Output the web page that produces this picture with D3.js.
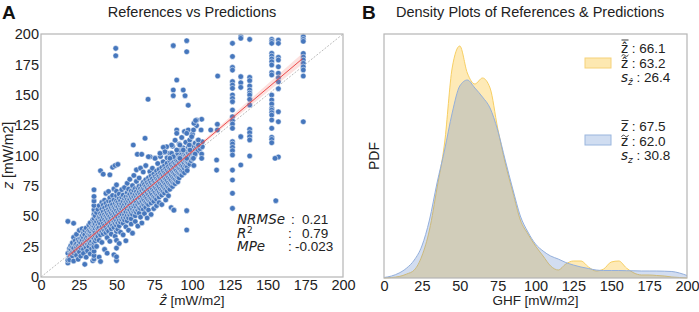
<!DOCTYPE html>
<html>
<head>
<meta charset="utf-8">
<script src="https://cdn.jsdelivr.net/npm/d3@7/dist/d3.min.js"></script>
<style>
  body { margin: 0; background: #fff; }
  svg { display: block; font-family: "Liberation Sans", Arial, sans-serif; }
  .tick text { font-family: "Liberation Sans", Arial, sans-serif; font-size: 14.5px; fill: #222; }
</style>
</head>
<body>
<svg id="chart" width="699" height="312"></svg>
<script>
// ---- data ----
const ticks = [0, 25, 50, 75, 100, 125, 150, 175, 200];

// main cloud: [prediction, [references...]]
const cloudColumns = [
  [17.8, [11.5, 13.8, 19.6, 45.8]],
  [18.9, [16.2, 21.7, 23.4, 14.1]],
  [19.7, [18.8, 22.9, 25.6]],
  [20.8, [17.3, 20.4, 24.7, 28.1]],
  [21.6, [19.9, 23.8, 32.6, 44.2, 13.2]],
  [22.7, [21.3, 26.4, 29.9]],
  [23.5, [17.9, 24.6, 27.2, 35.1]],
  [24.6, [22.4, 25.8, 30.7, 14.6]],
  [25.4, [26.9, 29.3, 20.6, 38.4]],
  [26.3, [24.1, 28.2, 31.8, 17.2]],
  [27.2, [25.7, 30.4, 33.9, 39.7]],
  [28.1, [22.8, 27.6, 32.3, 36.2, 19.4]],
  [29.0, [26.3, 29.8, 34.7, 38.6, 10.4]],
  [29.9, [28.5, 31.9, 24.2, 40.3, 16.3]],
  [30.8, [27.1, 33.2, 36.9, 30.1, 21.5]],
  [31.7, [29.6, 35.4, 38.2, 42.8, 25.3]],
  [32.6, [31.1, 34.3, 37.5, 27.8, 44.6, 19.1]],
  [33.5, [29.2, 36.6, 40.4, 33.7, 23.4]],
  [34.3, [32.4, 38.9, 42.3, 47.1, 26.6, 13.4]],
  [35.1, [14.8, 17.6, 21.2, 24.9, 28.4, 31.6, 35.3, 38.1, 41.7, 44.5, 48.2, 51.6, 55.4, 58.8, 62.5, 66.3, 71.8]],
  [35.9, [33.8, 39.6, 43.5, 29.7, 50.3, 36.4]],
  [36.8, [35.2, 41.3, 45.6, 31.4, 53.1, 25.2]],
  [37.7, [37.9, 42.7, 47.8, 33.5, 55.6, 39.9]],
  [38.5, [36.1, 40.8, 45.1, 49.4, 30.2, 58.7, 16.4]],
  [39.4, [38.4, 43.9, 48.6, 52.3, 34.7, 12.8, 87.5]],
  [40.3, [41.2, 46.7, 50.9, 37.3, 55.8, 28.5, 61.4]],
  [41.2, [39.5, 44.1, 49.2, 53.7, 35.6, 59.3, 84.6]],
  [42.1, [42.6, 47.3, 51.5, 38.2, 56.9, 63.2, 22.7]],
  [43.0, [40.9, 45.8, 50.1, 54.4, 36.5, 60.7, 68.8]],
  [43.8, [44.3, 48.7, 52.8, 39.1, 58.2, 32.4, 19.6]],
  [44.7, [43.1, 47.6, 51.3, 55.9, 37.8, 62.6, 70.4]],
  [45.6, [45.9, 49.8, 54.1, 41.5, 58.7, 65.2, 29.4, 84.1]],
  [46.5, [44.2, 48.3, 52.6, 56.8, 39.7, 61.9, 35.3]],
  [47.4, [46.8, 51.2, 55.3, 42.6, 59.6, 67.1, 90.3]],
  [48.3, [45.4, 49.7, 53.9, 57.4, 40.8, 63.3, 72.5, 18.3]],
  [49.1, [47.7, 52.1, 56.2, 43.9, 60.8, 33.6, 91.8]],
  [50.0, [13.5, 16.6, 23.8, 30.2, 37.6, 42.4, 46.3, 50.6, 54.8, 58.5, 62.7, 66.9, 70.6, 75.8]],
  [50.9, [48.9, 53.2, 57.7, 44.6, 61.5, 39.4, 92.7]],
  [51.8, [46.7, 51.4, 55.6, 59.9, 42.1, 64.8, 68.3, 27.6]],
  [52.7, [49.5, 54.3, 58.4, 45.2, 62.9, 36.8]],
  [53.5, [51.8, 56.1, 60.3, 47.4, 65.7, 71.9]],
  [54.4, [48.6, 53.7, 57.9, 62.1, 44.3, 67.4, 34.7]],
  [55.3, [51.2, 55.4, 59.8, 46.9, 64.2, 73.6]],
  [56.2, [53.6, 57.3, 61.7, 49.1, 65.9, 41.3, 29.8]],
  [57.1, [50.8, 55.9, 60.1, 63.8, 46.2, 69.5, 77.2]],
  [58.0, [53.1, 57.8, 62.4, 48.7, 66.6, 72.3, 38.5]],
  [58.8, [55.2, 59.4, 63.9, 51.3, 68.1, 80.4]],
  [59.7, [52.7, 57.2, 61.6, 65.8, 47.9, 70.7, 43.6]],
  [60.6, [55.8, 60.3, 64.5, 51.6, 68.9, 75.2, 36.1]],
  [61.5, [58.1, 62.7, 66.4, 53.9, 71.3, 83.6]],
  [62.4, [54.6, 59.2, 63.6, 67.8, 50.4, 72.9, 45.7]],
  [63.2, [57.5, 61.8, 65.9, 53.3, 70.2, 78.7, 88.2]],
  [64.1, [59.7, 64.3, 68.5, 55.1, 73.4, 41.9]],
  [65.0, [56.9, 61.2, 65.6, 69.9, 52.6, 74.8, 81.5]],
  [65.9, [60.4, 64.8, 68.3, 56.4, 72.7, 49.3, 89.6]],
  [66.8, [62.5, 66.7, 71.1, 58.2, 75.6, 44.5]],
  [67.7, [59.8, 64.1, 68.6, 72.8, 55.7, 77.9, 86.4]],
  [68.5, [63.2, 67.5, 71.9, 59.1, 76.3, 52.2]],
  [69.4, [61.6, 65.8, 70.4, 74.6, 57.3, 80.1, 91.7]],
  [70.3, [64.7, 69.3, 73.2, 60.5, 77.8, 48.6]],
  [71.2, [63.4, 67.9, 72.1, 76.5, 59.6, 81.7, 55.2]],
  [72.1, [66.2, 70.6, 74.9, 62.3, 79.4, 86.8]],
  [72.9, [64.6, 69.1, 73.7, 77.6, 60.9, 83.2, 51.5]],
  [73.8, [67.8, 72.4, 76.2, 63.7, 80.9, 89.5]],
  [74.7, [66.1, 70.9, 75.3, 79.1, 62.2, 84.7, 56.3]],
  [75.6, [69.5, 73.8, 77.7, 65.3, 82.6, 97.8]],
  [76.5, [68.2, 72.7, 76.9, 81.2, 64.1, 87.3, 58.7]],
  [77.3, [71.4, 75.6, 79.8, 67.2, 84.1, 93.4]],
  [78.2, [69.9, 74.3, 78.6, 82.8, 65.8, 88.6, 61.2]],
  [79.1, [72.8, 77.1, 81.4, 68.6, 85.7, 99.2]],
  [80.0, [71.5, 75.9, 80.2, 84.3, 67.4, 90.1, 59.6]],
  [80.9, [74.6, 78.8, 83.1, 70.3, 87.4, 94.8]],
  [81.8, [73.2, 77.6, 81.9, 86.2, 69.1, 91.5, 102.6]],
  [82.6, [76.3, 80.5, 84.8, 72.1, 89.2, 63.4]],
  [83.5, [74.9, 79.3, 83.6, 87.9, 70.8, 93.7, 98.1]],
  [84.4, [77.8, 82.2, 86.5, 73.6, 90.9, 66.9]],
  [85.3, [76.4, 80.7, 85.1, 89.4, 72.2, 95.6, 101.9]],
  [86.2, [79.6, 83.9, 88.3, 75.4, 92.6, 57.1]],
  [87.1, [78.1, 82.5, 86.9, 91.2, 74.5, 97.4, 107.6]],
  [87.9, [81.3, 85.6, 89.8, 77.2, 94.3, 55.4]],
  [88.8, [80.2, 84.5, 88.7, 93.1, 76.8, 99.5, 112.6]],
  [89.7, [83.4, 87.8, 92.1, 79.1, 96.2]],
  [90.6, [82.1, 86.3, 90.6, 94.9, 78.3, 101.4]],
  [91.5, [85.2, 89.5, 93.8, 81.6, 98.3, 109.4]],
  [92.4, [84.6, 88.9, 92.7, 97.2, 104.1]],
  [93.2, [87.3, 91.6, 95.9, 83.8, 100.6, 114.8]],
  [94.1, [86.7, 90.8, 95.1, 99.4, 106.3]],
  [95.0, [89.4, 93.7, 97.9, 102.2, 85.8, 119.7]],
  [95.9, [91.2, 95.4, 99.8, 104.5, 110.9]],
  [96.8, [90.5, 94.6, 98.9, 103.3, 87.6]],
  [97.6, [93.8, 97.6, 101.8, 106.7]],
  [98.5, [92.9, 96.8, 100.7, 105.2, 112.8]],
  [99.4, [95.7, 99.9, 103.9, 108.4]],
  [100.3, [97.3, 101.5, 105.8, 117.6]],
  [101.2, [99.1, 103.4, 107.5, 91.8]],
  [102.1, [100.6, 104.8, 110.2]],
  [103.0, [102.7, 106.9, 124.6]],
  [104.0, [103.9, 108.3, 112.4]],
  [105.3, [105.6, 109.7]],
  [106.8, [107.2, 111.3]]
];

// discrete prediction values with vertical strips of references
const stripColumns = [
  [126.8, [192.3, 181.5, 172.5, 170.3, 160.8, 158, 155.3, 149.8, 147, 144.3, 137.4, 131.9, 128.6, 125.9, 122.4, 111.4, 109.5, 106.7, 104, 100.4, 88, 79.8, 68.9, 56.5]],
  [132.3, [197.8, 196.5, 164.9, 159.9, 156.1, 115.5, 92.2]],
  [138.2, [195.6, 164.3, 161.6, 157.2, 153.9, 151.5, 149.8, 146.2, 141.6, 121.6, 118.8, 115.5, 112.8, 99.6]],
  [152.8, [195.6, 194, 192.3, 184.1, 181.9, 179.5, 177.2, 174.5, 168.2, 166.3, 149.8, 145.7, 142.4, 138.8, 137.4, 135.3, 133.3, 129.2, 122.4, 115, 113.3, 110.5]],
  [157.2, [195, 192.3, 180.8, 178.6, 173, 167.7, 164, 160.7, 155, 136, 127.8, 98.8]],
  [173.7, [197.8, 195.6, 194, 184, 181, 178.6, 175.9, 173, 170.4, 165.4, 127.8]]
];

const outliers = [
  [49.5, 188.2], [49.5, 182.1], [87.6, 190.4], [96.5, 194.5], [96.5, 185.4],
  [70.9, 146.3], [89.9, 162.1], [87.6, 153.9], [94.2, 153.9], [87.6, 149.2], [95.4, 149.2],
  [97.5, 141.3], [117, 165.4], [116.3, 96.3], [116.3, 88], [155, 97.7], [155.5, 62.8],
  [96.5, 54.6], [96.5, 38.7], [88, 55],
  [106.4, 129.8], [103.1, 129.2], [101.3, 126.5], [102.4, 128.8], [97.5, 121], [101, 121],
  [106, 121], [112.4, 121], [116.8, 125.7], [116.8, 121], [89.9, 121], [89.9, 118.3],
  [96.5, 118.3], [99.8, 115.5], [104.2, 112.8], [104.2, 108.6], [98.2, 108.6], [92, 108.6],
  [86.5, 108.6], [83.2, 107.2], [81, 106.7], [82.1, 103.1], [86.5, 101.8], [89.9, 104.5],
  [94.2, 104.5], [98.7, 104.5], [102, 101.2], [106.4, 101.2], [106.4, 97.7], [100.9, 97.7],
  [96.5, 97.7], [92, 97.7], [87.6, 99], [85.4, 97.7], [78.8, 101.8], [75.5, 97.7],
  [72.2, 99], [68.9, 114.2], [61.1, 108.6], [63.8, 101], [66.7, 101], [71.1, 99]
];

// regression fit drawn in panel A
const fitRange = [18, 173];
const fitSlope = 1.047;
const fitIntercept = -1.6;
const fitBand = [[18, 2.2], [60, 0.8], [110, 1.6], [173, 4.5]];   // half width of CI

const statLabels = ["NRMSe", "R", "MPe"];
const statValues = ["0.21", "0.79", "-0.023"];

// densities, sampled every 5 mW/m2 from 0 to 200
const densityX = d3.range(0, 201, 5);
const predDensity = [0, 0.00005, 0.00015, 0.0004, 0.0008, 0.0022, 0.0048, 0.009, 0.0135, 0.021, 0.0232,
  0.0205, 0.0194, 0.02, 0.019, 0.015, 0.0115, 0.0086, 0.0058, 0.0044, 0.0032, 0.0022, 0.0012,
  0.0008, 0.0014, 0.0017, 0.0017, 0.0011, 0.0007, 0.0009, 0.0016, 0.0017, 0.001, 0.0005,
  0.0003, 0.0003, 0.00025, 0.0002, 0.0001, 0.00005, 0];
const refDensity = [0.00005, 0.0002, 0.0005, 0.001, 0.0018, 0.0032, 0.0058, 0.0095, 0.0128, 0.0165, 0.0192,
  0.0198, 0.019, 0.0181, 0.017, 0.0148, 0.0118, 0.0089, 0.0062, 0.0046, 0.0034, 0.0027, 0.0022,
  0.0019, 0.00155, 0.0013, 0.0011, 0.00095, 0.0008, 0.00075, 0.00075, 0.00075, 0.00073, 0.00072,
  0.0007, 0.0007, 0.0007, 0.00068, 0.00065, 0.0005, 0.00025];

// legend rows: [symbol kind, value]
const legendPred = [["meanHat", "66.1"], ["medianHat", "63.2"], ["sdHat", "26.4"]];
const legendRef = [["mean", "67.5"], ["median", "62.0"], ["sd", "30.8"]];

// ---- drawing ----
const svg = d3.select("#chart");
const frameColor = "#b5b5b5";
const textColor = "#222";
const mathFont = "DejaVu Sans";

function drawFrame(g, x0, y0, x1, y1) {
  g.append("rect")
    .attr("x", x0).attr("y", y0)
    .attr("width", x1 - x0).attr("height", y1 - y0)
    .attr("fill", "none").attr("stroke", frameColor).attr("stroke-width", 1.2);
}

// Panel A
const A = { left: 41, right: 343, top: 34, bottom: 277 };
const xA = d3.scaleLinear().domain([0, 200]).range([A.left, A.right]);
const yA = d3.scaleLinear().domain([0, 200]).range([A.bottom, A.top]);
const gA = svg.append("g");

const points = [];
cloudColumns.forEach(([x, ys]) => ys.forEach(y => points.push([x, y])));
stripColumns.forEach(([x, ys]) => ys.forEach(y => points.push([x, y])));
outliers.forEach(p => points.push(p));

gA.append("line")
  .attr("x1", xA(0)).attr("y1", yA(0)).attr("x2", xA(200)).attr("y2", yA(200))
  .attr("stroke", "#aaa").attr("stroke-width", 0.8).attr("stroke-dasharray", "2,1.5");

gA.append("g").selectAll("circle")
  .data(points)
  .join("circle")
  .attr("cx", d => xA(d[0]))
  .attr("cy", d => yA(d[1]))
  .attr("r", 2.8)
  .attr("fill", "#4677bd")
  .attr("stroke", "#fff")
  .attr("stroke-width", 0.5);

const fitY = x => fitSlope * x + fitIntercept;
gA.append("path")
  .datum(fitBand)
  .attr("fill", "rgba(240,120,110,0.22)")
  .attr("d", d3.area()
    .x(d => xA(d[0]))
    .y0(d => yA(fitY(d[0]) - d[1]))
    .y1(d => yA(fitY(d[0]) + d[1]))
    .curve(d3.curveMonotoneX));

gA.append("line")
  .attr("x1", xA(fitRange[0])).attr("y1", yA(fitY(fitRange[0])))
  .attr("x2", xA(fitRange[1])).attr("y2", yA(fitY(fitRange[1])))
  .attr("stroke", "#ee4b4b").attr("stroke-width", 1);

drawFrame(gA, A.left, A.top, A.right, A.bottom);

gA.append("g")
  .attr("transform", `translate(0,${A.bottom})`)
  .call(d3.axisBottom(xA).tickValues(ticks).tickSize(0).tickPadding(3))
  .call(g => g.select(".domain").remove());
gA.append("g")
  .attr("transform", `translate(${A.left},0)`)
  .call(d3.axisLeft(yA).tickValues(ticks).tickSize(0).tickPadding(2))
  .call(g => g.select(".domain").remove());

// stats text
const statG = gA.append("g").attr("font-size", 13.5).attr("fill", textColor);
statLabels.forEach((lab, i) => {
  const y = 224 + i * 13.5;
  statG.append("text").attr("x", 237).attr("y", y)
    .attr("font-family", mathFont).attr("font-style", "italic").text(lab);
  if (lab === "R") {
    statG.append("text").attr("x", 247).attr("y", y - 4.5).attr("font-size", 9)
      .attr("font-family", mathFont).text("2");
  }
  statG.append("text").attr("x", i === 0 ? 291 : 288).attr("y", y).text(":");
  statG.append("text").attr("x", i === 2 ? 295 : 302).attr("y", y).text(statValues[i]);
});

// titles and labels A
svg.append("text").attr("x", 2).attr("y", 19).attr("font-size", 19).attr("font-weight", "bold")
  .attr("fill", "#111").text("A");
svg.append("text").attr("x", (A.left + A.right) / 2).attr("y", 17).attr("text-anchor", "middle")
  .attr("font-size", 14.5).attr("fill", textColor).text("References vs Predictions");

const xlabA = svg.append("text").attr("x", (A.left + A.right) / 2).attr("y", 305)
  .attr("text-anchor", "middle").attr("font-size", 13.5).attr("fill", textColor);
xlabA.append("tspan").attr("font-family", mathFont).attr("font-style", "italic").text("\u1E91");
xlabA.append("tspan").text(" [mW/m2]");

const ylabA = svg.append("text")
  .attr("transform", `translate(13,${(A.top + A.bottom) / 2}) rotate(-90)`)
  .attr("text-anchor", "middle").attr("font-size", 14).attr("fill", textColor);
ylabA.append("tspan").attr("font-family", mathFont).attr("font-style", "italic").text("z");
ylabA.append("tspan").text(" [mW/m2]");

// Panel B
const B = { left: 384, right: 687, top: 34, bottom: 278 };
const xB = d3.scaleLinear().domain([0, 200]).range([B.left, B.right]);
const yB = d3.scaleLinear().domain([0, 0.0244]).range([B.bottom, B.top]);
const gB = svg.append("g");

const area = d3.area()
  .x((d, i) => xB(densityX[i]))
  .y0(yB(0))
  .y1(d => yB(d))
  .curve(d3.curveMonotoneX);
const line = area.lineY1();

gB.append("path").datum(predDensity).attr("d", area)
  .attr("fill", "rgba(252,196,50,0.35)");
gB.append("path").datum(predDensity).attr("d", line)
  .attr("fill", "none").attr("stroke", "#f7cf63").attr("stroke-width", 1);
gB.append("path").datum(refDensity).attr("d", area)
  .attr("fill", "rgba(76,120,196,0.25)");
gB.append("path").datum(refDensity).attr("d", line)
  .attr("fill", "none").attr("stroke", "#93afdc").attr("stroke-width", 1);

drawFrame(gB, B.left, B.top, B.right, B.bottom);

gB.append("g")
  .attr("transform", `translate(0,${B.bottom})`)
  .call(d3.axisBottom(xB).tickValues(ticks).tickSize(0).tickPadding(3))
  .call(g => g.select(".domain").remove());

svg.append("text").attr("x", 362).attr("y", 19).attr("font-size", 19).attr("font-weight", "bold")
  .attr("fill", "#111").text("B");
svg.append("text").attr("x", 396).attr("y", 17)
  .attr("font-size", 14.5).attr("fill", textColor).text("Density Plots of References & Predictions");
svg.append("text").attr("x", (B.left + B.right) / 2).attr("y", 305).attr("text-anchor", "middle")
  .attr("font-size", 13.5).attr("fill", textColor).text("GHF [mW/m2]");
svg.append("text")
  .attr("transform", `translate(379,${(B.top + B.bottom) / 2}) rotate(-90)`)
  .attr("text-anchor", "middle").attr("font-size", 14).attr("fill", textColor).text("PDF");

// legend: patch + three stat rows, accents drawn as small strokes
function tildePath(cx, cy) {
  const p = d3.path();
  p.moveTo(cx - 3.5, cy + 0.8);
  p.bezierCurveTo(cx - 2, cy - 1.8, cx - 0.5, cy - 0.6, cx, cy);
  p.bezierCurveTo(cx + 0.5, cy + 0.6, cx + 2, cy + 1.8, cx + 3.5, cy - 0.8);
  return p.toString();
}
function legendBlock(rows, y0, patchY, fill, stroke) {
  gB.append("rect").attr("x", 585).attr("y", patchY).attr("width", 26).attr("height", 10)
    .attr("fill", fill).attr("stroke", stroke).attr("stroke-width", 1);
  const gap = [0, 15, 14];
  let y = y0;
  rows.forEach(([kind, val], i) => {
    y += gap[i];
    const x = 621;
    const hat = kind.endsWith("Hat");
    const t = gB.append("text").attr("x", x).attr("y", y).attr("font-size", 13.5).attr("fill", textColor);
    if (kind.startsWith("sd")) {
      t.append("tspan").attr("font-family", mathFont).attr("font-style", "italic").text("s");
      t.append("tspan").attr("font-family", mathFont).attr("font-style", "italic")
        .attr("font-size", 9).attr("dy", 3).text(hat ? "\u1E91" : "z");
      t.append("tspan").attr("dy", -3).text(" : " + val);
    } else {
      t.append("tspan").attr("font-family", mathFont).text(hat ? "\u1E91" : "z");
      t.append("tspan").text((hat ? " : " : "  : ") + val);
      const top = hat ? y - 13 : y - 10.5;
      if (kind.startsWith("mean")) {
        gB.append("line").attr("x1", x + 0.5).attr("x2", x + 7.5).attr("y1", top).attr("y2", top)
          .attr("stroke", textColor).attr("stroke-width", 0.9);
      } else {
        gB.append("path").attr("d", tildePath(x + 4, top + 0.5))
          .attr("fill", "none").attr("stroke", textColor).attr("stroke-width", 0.9);
      }
    }
  });
}
legendBlock(legendPred, 53, 58, "rgba(252,210,100,0.5)", "#f5d27a");
legendBlock(legendRef, 131, 135, "rgba(150,180,225,0.45)", "#9ab6de");
</script>
</body>
</html>
